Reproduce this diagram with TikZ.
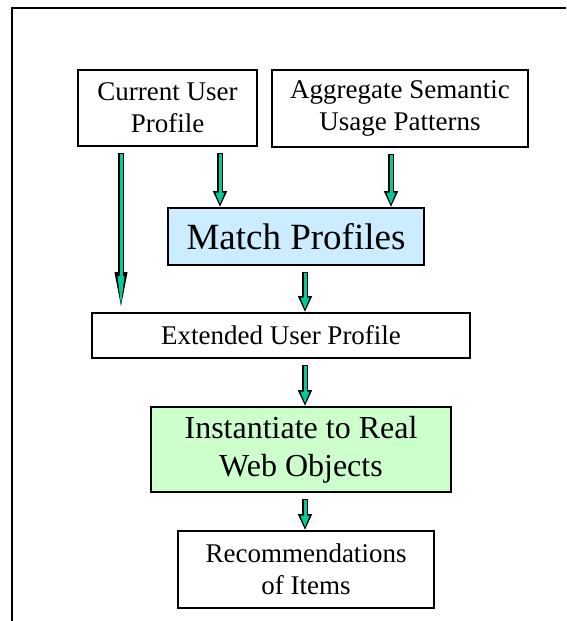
\documentclass[tikz,border=0pt]{standalone}
\usepackage{fontspec}
\setmainfont{Liberation Serif}
\usetikzlibrary{arrows.meta,positioning}
\definecolor{flowGreen}{HTML}{00CC99}
\definecolor{matchBlue}{HTML}{CCECFF}
\definecolor{instGreen}{HTML}{CCFFCC}

\begin{document}
\begin{tikzpicture}[x=1pt, y=-1pt,
	box/.style={draw, line width=1.6pt, align=center, inner sep=0pt, font=\fontsize{27}{32}\selectfont},
	flow/.style={line width=6pt, -{Triangle[length=16pt,width=13pt]}, shorten <=6pt,
		postaction={draw=flowGreen, line width=3pt, -{Triangle[length=12pt,width=8pt]}, shorten <=7.5pt, shorten >=2.5pt}},
	flowlong/.style={line width=6pt, -{Triangle[length=40pt,width=11pt]}, shorten <=6pt,
		postaction={draw=flowGreen, line width=3pt, -{Triangle[length=33pt,width=6pt]}, shorten <=7.5pt, shorten >=3pt}}]
	\useasboundingbox (0,0) rectangle (566,621);
	% Rahmen
	\draw[line width=2pt] (12,621) -- (12,8) -- (566,8);
	
	% Profile
	\node[box, minimum width=179pt, minimum height=76pt] (cur) at (167.5,108) {Current User\\Profile};
	\node[box, minimum width=256pt, minimum height=77pt] (agg) at (400,108.5) {Aggregate Semantic\\Usage Patterns};
	\node[box, fill=matchBlue, minimum width=256pt, minimum height=57pt, font=\fontsize{37}{44}\selectfont] (match) at (296,236.5) {Match Profiles};
	\node[box, minimum width=378pt, minimum height=45pt] (ext) at (281,335.5) {Extended User Profile};
	
	% Instanzen
	\node[box, fill=instGreen, minimum width=300pt, minimum height=85pt, font=\fontsize{32}{38}\selectfont] (inst) at (301,449.5) {Instantiate to Real\\Web Objects};
	\node[box, minimum width=256pt, minimum height=77pt] (rec) at (306,569.5) {Recommendations\\of Items};
	
	% Pfeile
	\coordinate (xa) at (121,0);
	\coordinate (xb) at (220,0);
	\coordinate (xc) at (391,0);
	\coordinate (xd) at (305,0);
	\draw[flowlong] (cur.south -| xa) -- (ext.north -| xa);
	\draw[flow] (cur.south -| xb) -- (match.north -| xb);
	\draw[flow] (agg.south -| xc) -- (match.north -| xc);
	\draw[flow] (match.south -| xd) -- (ext.north -| xd);
	\draw[flow] (ext.south -| xd) -- (inst.north -| xd);
	\draw[flow] (inst.south -| xd) -- (rec.north -| xd);
\end{tikzpicture}
\end{document}
